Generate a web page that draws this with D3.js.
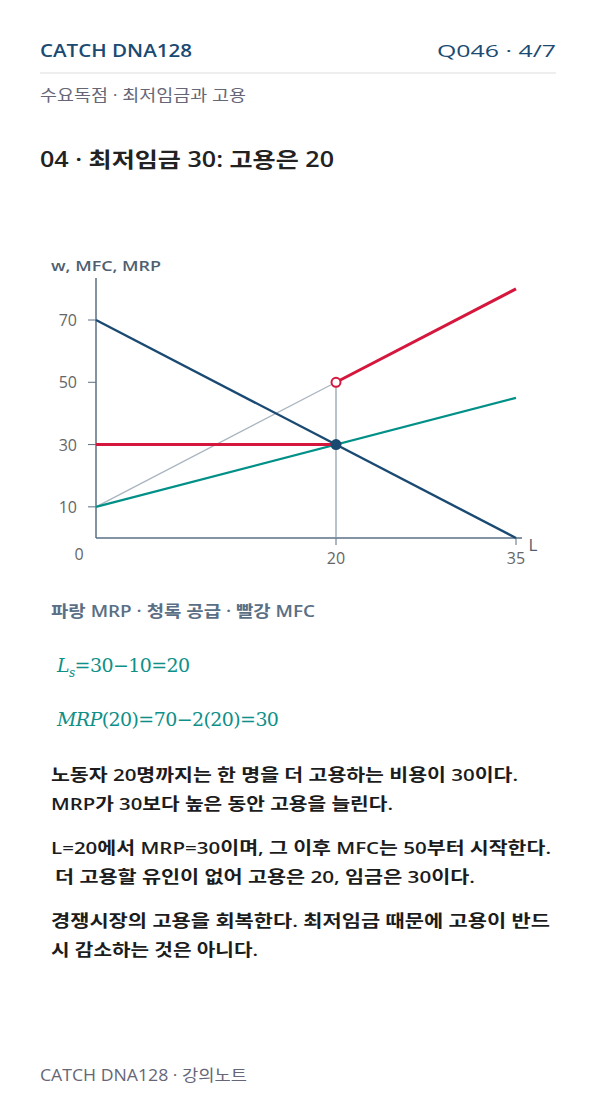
<!DOCTYPE html><html><head><meta charset="utf-8"><script src="https://cdn.jsdelivr.net/npm/d3@7"></script>
<style>body{margin:0;background:#fff;font-family:"Open Sans","Noto Sans CJK KR",sans-serif}</style></head><body><svg id="c" width="596" height="1106"></svg>
<script>
const yTicks=[10,30,50,70];
const xTicks=[20,35];
const mrp=[[0,70],[35,0]];
const supply=[[0,10],[35,45]];
const mfcGray=[[0,10],[20,50]];
const minWage=[[0,30],[20,30]];
const mfcRed=[[20,50],[35,80]];
const guide=[[20,0],[20,50]];
const bodyLines=[
 ["노동자 20명까지는 한 명을 더 고용하는 비용이 30이다.",781,467],
 ["MRP가 30보다 높은 동안 고용을 늘린다.",810,342],
 ["L=20에서 MRP=30이며, 그 이후 MFC는 50부터 시작한다.",854,500],
 [" 더 고용할 유인이 없어 고용은 20, 임금은 30이다.",883,420],
 ["경쟁시장의 고용을 회복한다. 최저임금 때문에 고용이 반드",927,499],
 ["시 감소하는 것은 아니다.",956,207]];
const svg=d3.select("#c");
const x=d3.scaleLinear().domain([0,35]).range([96,516]);
const y=d3.scaleLinear().domain([0,70]).range([538,320]);
const t=(s,X,Y,o={})=>{const e=svg.append("text").attr("x",X).attr("y",Y).text(s).attr("font-size",o.s||16).attr("fill",o.c||"#222").attr("font-weight",o.w||400).attr("text-anchor",o.a||"start");if(o.L)e.attr("textLength",o.L).attr("lengthAdjust","spacingAndGlyphs");return e;};
t("CATCH DNA128",40,57,{s:18,c:"#1a4a72",w:600,L:152});
t("Q046 · 4/7",556,57,{s:17,c:"#1a4a72",a:"end",L:119});
svg.append("line").attr("x1",40).attr("x2",556).attr("y1",73).attr("y2",73).attr("stroke","#ddd");
t("수요독점 · 최저임금과 고용",40,101,{s:16,c:"#667",L:206});
t("04 · 최저임금 30: 고용은 20",40,167,{s:21,c:"#222",w:600,L:294});
t("w, MFC, MRP",51,271,{s:15,c:"#4f5f70",w:600,L:110});
const ax="#5a6f85";
svg.append("line").attr("x1",96).attr("x2",96).attr("y1",278).attr("y2",538).attr("stroke",ax).attr("stroke-width",1.5);
svg.append("line").attr("x1",96).attr("x2",522).attr("y1",538).attr("y2",538).attr("stroke",ax).attr("stroke-width",1.5);
yTicks.forEach(v=>{svg.append("line").attr("x1",88).attr("x2",96).attr("y1",y(v)).attr("y2",y(v)).attr("stroke",ax);t(v,77,y(v)+6,{s:16,c:"#666",a:"end"});});
xTicks.forEach(v=>{svg.append("line").attr("x1",x(v)).attr("x2",x(v)).attr("y1",538).attr("y2",545).attr("stroke",ax);t(v,x(v),564,{s:16,c:"#666",a:"middle"});});
t("0",79,560,{s:16,c:"#666",a:"middle"});
t("L",533,551,{s:17,c:"#4f5f70",a:"middle"});
const ln=d3.line().x(d=>x(d[0])).y(d=>y(d[1]));
const P=(d,c,w)=>svg.append("path").attr("d",ln(d)).attr("fill","none").attr("stroke",c).attr("stroke-width",w);
P(guide,"#8a9aaa",1.2);
P(mfcGray,"#aab5c0",1.3);
P(supply,"#009088",2.2);
P(mrp,"#1a4a72",2.4);
P(minWage,"#d6173d",3);
P(mfcRed,"#d6173d",3);
svg.append("circle").attr("cx",x(20)).attr("cy",y(50)).attr("r",4.5).attr("fill","#fff").attr("stroke","#d6173d").attr("stroke-width",2);
svg.append("circle").attr("cx",x(20)).attr("cy",y(30)).attr("r",5.5).attr("fill","#1a4a72");
t("파랑 MRP · 청록 공급 · 빨강 MFC",51,617,{s:16,c:"#5a6f85",w:600,L:264});
const mf="'DejaVu Serif','Liberation Serif',serif",tc="#0e9088";
const f1=svg.append("text").attr("x",57).attr("y",672).attr("fill",tc).attr("font-size",19).attr("font-family",mf).attr("letter-spacing",-0.6);
f1.append("tspan").text("L").attr("font-style","italic");
f1.append("tspan").text("s").attr("font-style","italic").attr("font-size",12).attr("dy",5);
f1.append("tspan").text("=30−10=20").attr("dy",-5).attr("word-spacing",0);
const f2=svg.append("text").attr("x",57).attr("y",726).attr("fill",tc).attr("font-size",19).attr("font-family",mf).attr("letter-spacing",-0.6);
f2.append("tspan").text("MRP").attr("font-style","italic");
f2.append("tspan").text("(20)=70−2(20)=30");
bodyLines.forEach(([s,Y,L])=>t(s,s.startsWith(" ")?55:51,Y,{s:17,c:"#1c1c1c",w:600,L}));
t("CATCH DNA128 · 강의노트",40,1081,{s:16,c:"#667",L:207});
</script></body></html>
